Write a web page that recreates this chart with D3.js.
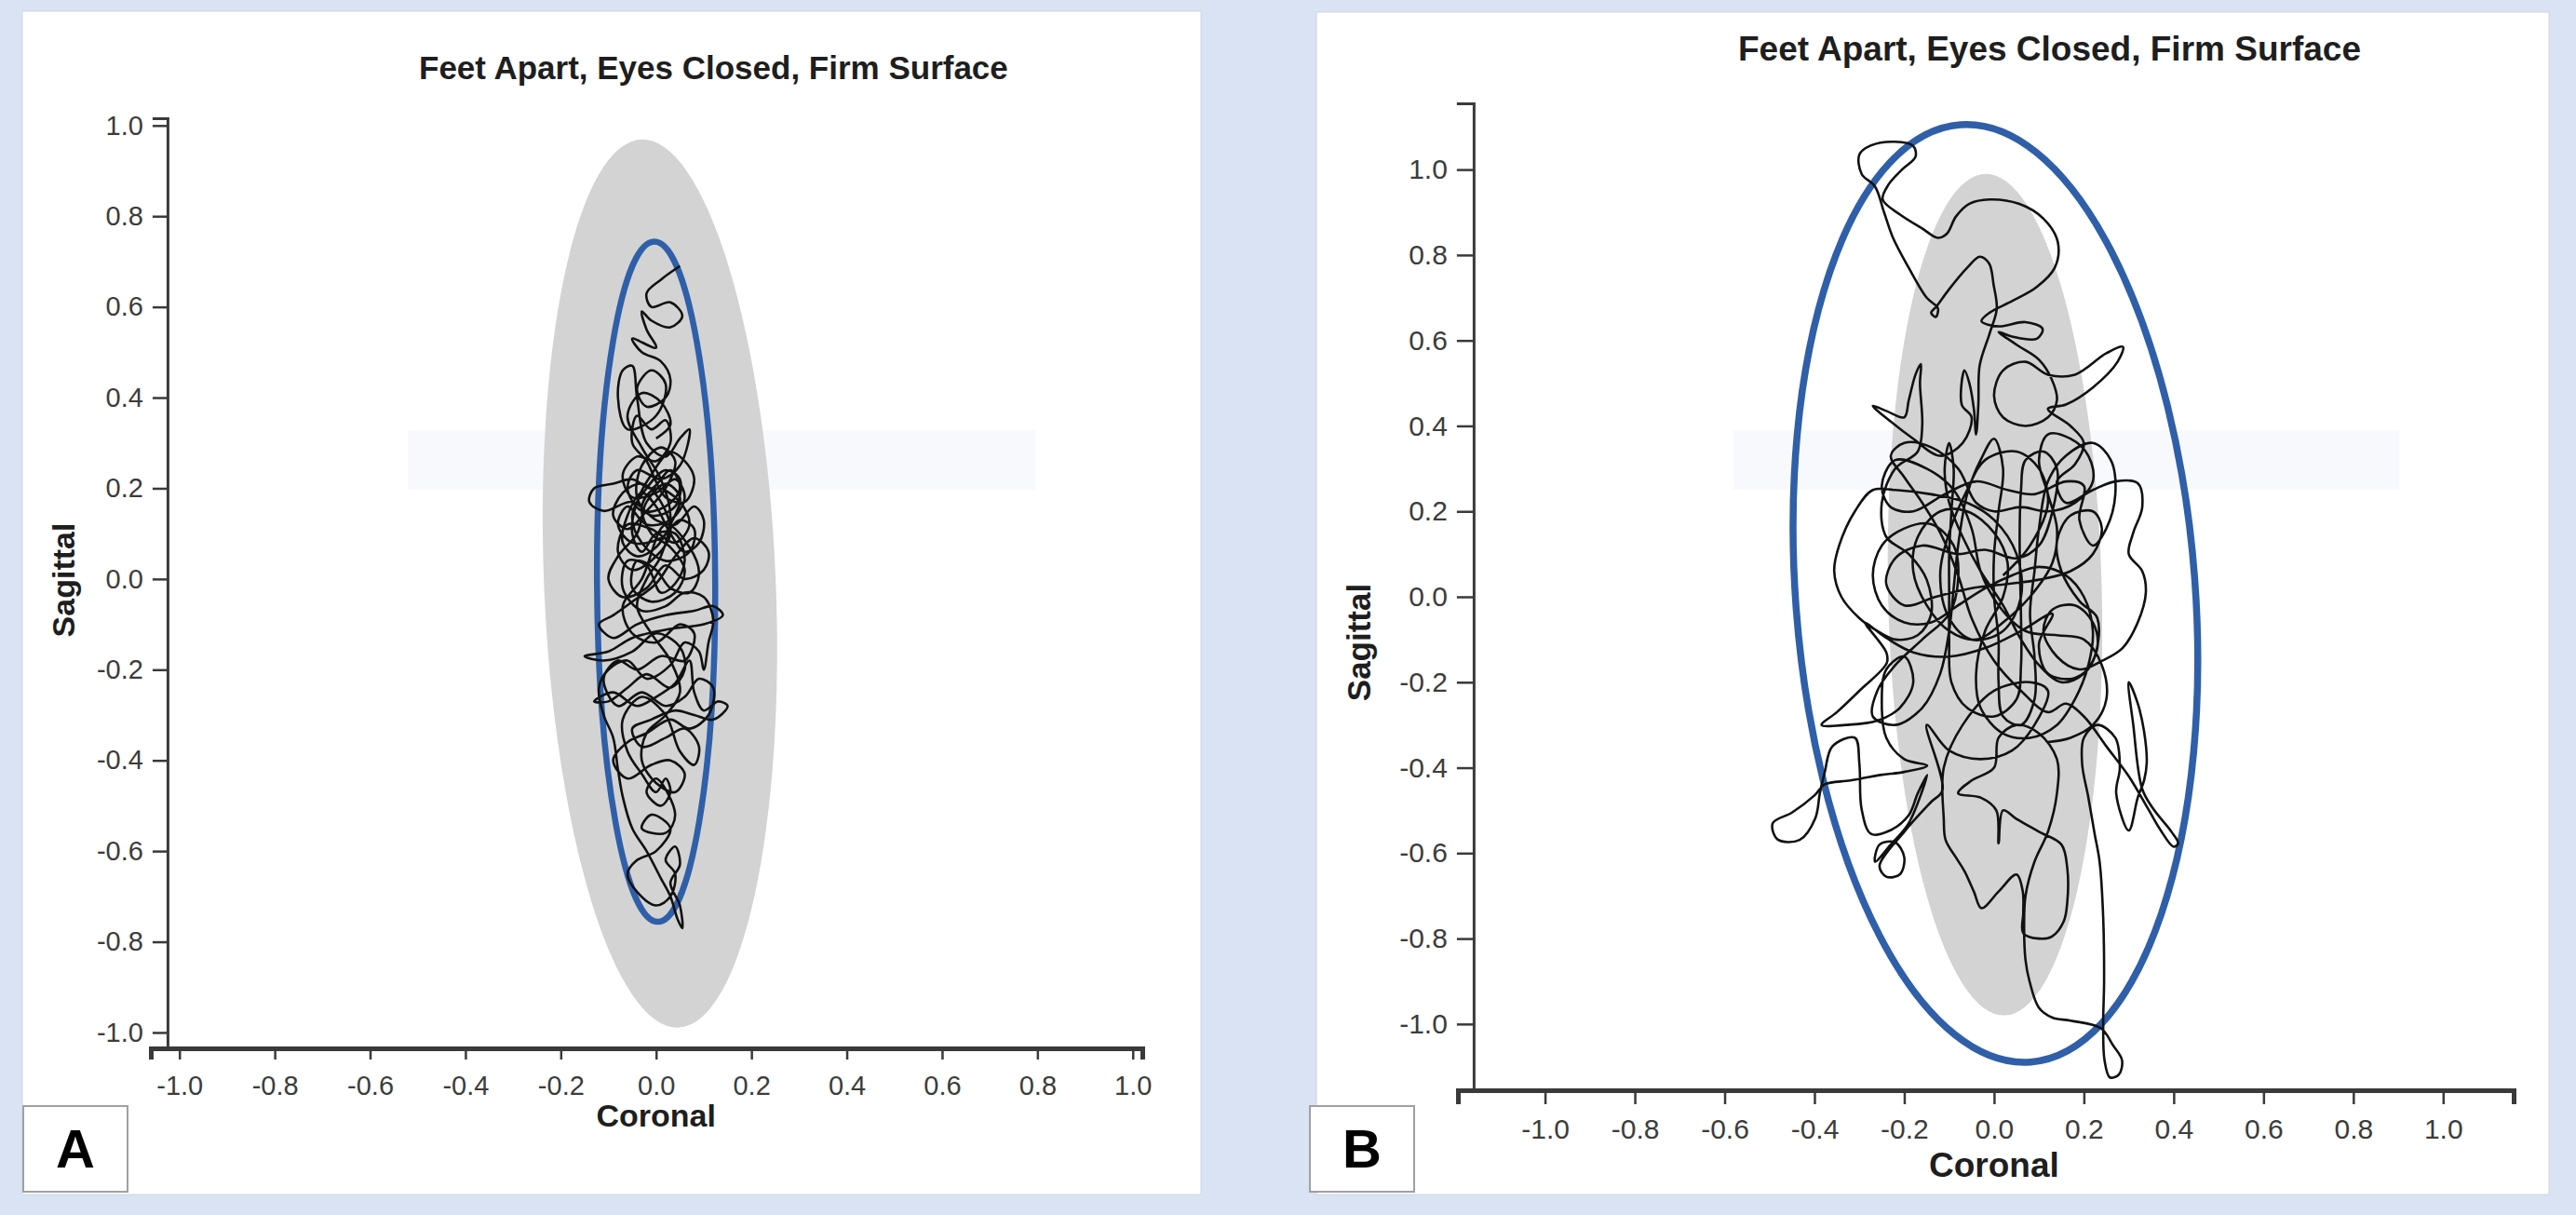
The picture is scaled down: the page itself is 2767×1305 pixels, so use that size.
<!DOCTYPE html>
<html><head><meta charset="utf-8">
<script src="https://cdn.jsdelivr.net/npm/d3@7"></script>
<style>
html,body{margin:0;padding:0;background:#dae3f3;}
svg{display:block;}
text{font-family:"Liberation Sans",Arial,Helvetica,sans-serif;}
</style></head><body>
<svg id="chart" width="2767" height="1305"></svg>
<script>
// ---------------- DATA ----------------
const titleText = "Feet Apart, Eyes Closed, Firm Surface";
const xLabel = "Coronal";
const yLabel = "Sagittal";
const tickValues = [-1.0,-0.8,-0.6,-0.4,-0.2,0.0,0.2,0.4,0.6,0.8,1.0];
const panelLetters = ["A","B"];
// ellipses: [centre x, centre y, semi-axis coronal, semi-axis sagittal, tilt deg (top toward -x)]
const normEllipseA = [0.008,-0.01,0.243,0.98,2.4];
const swayEllipseA = [0.0,-0.006,0.124,0.75,0.3];
const normEllipseB = [0.002,0.005,0.238,0.985,1.3];
const swayEllipseB = [0.003,0.008,0.445,1.10,4.3];

// centre-of-pressure trace, panel A  [coronal, sagittal]
const traceA = [
[0.05,0.69],[0.01,0.66],[-0.02,0.63],[-0.01,0.60],[0.03,0.61],[0.055,0.58],[0.03,0.555],[-0.01,0.57],[-0.03,0.59],[-0.02,0.55],
[0.0,0.51],[-0.05,0.53],[-0.03,0.50],[0.01,0.48],[0.03,0.44],[0.02,0.40],[-0.02,0.38],[-0.04,0.42],[-0.01,0.46],[0.02,0.43],
[0.0,0.36],[-0.06,0.33],[-0.08,0.40],[-0.07,0.46],[-0.05,0.47],[-0.04,0.40],[-0.02,0.30],[0.02,0.27],[0.05,0.31],[0.07,0.33],
[0.05,0.25],[0.01,0.22],[-0.04,0.24],[-0.06,0.20],[-0.03,0.15],[0.02,0.16],[0.05,0.20],[0.03,0.24],[-0.01,0.20],[-0.05,0.22],
[-0.09,0.21],[-0.13,0.20],[-0.14,0.17],[-0.11,0.15],[-0.05,0.17],[0.0,0.13],[0.04,0.12],[0.08,0.16],[0.10,0.13],[0.09,0.08],
[0.06,0.06],[0.03,0.10],[0.0,0.16],[-0.03,0.19],[-0.06,0.14],[-0.07,0.08],[-0.04,0.05],[0.0,0.07],[0.03,0.12],[0.05,0.18],
[0.02,0.21],[-0.02,0.17],[-0.04,0.10],[-0.08,0.05],[-0.10,0.0],[-0.07,-0.04],[-0.02,-0.02],[0.02,0.03],[0.06,0.0],[0.10,0.02],
[0.11,0.06],[0.08,0.09],[0.04,0.05],[0.0,-0.01],[-0.05,-0.05],[-0.09,-0.08],[-0.12,-0.10],[-0.09,-0.13],[-0.04,-0.10],[0.02,-0.08],
[0.08,-0.07],[0.12,-0.06],[0.14,-0.08],[0.10,-0.10],[0.03,-0.11],[-0.05,-0.13],[-0.10,-0.16],[-0.15,-0.17],[-0.11,-0.18],[-0.05,-0.16],
[0.0,-0.12],[0.05,-0.15],[0.06,-0.20],[0.03,-0.24],[-0.02,-0.21],[-0.06,-0.24],[-0.10,-0.27],[-0.13,-0.27],[-0.09,-0.25],[-0.04,-0.28],
[0.0,-0.26],[0.04,-0.23],[0.07,-0.18],[0.08,-0.25],[0.10,-0.29],[0.13,-0.27],[0.15,-0.28],[0.12,-0.31],[0.08,-0.30],[0.04,-0.29],
[-0.01,-0.31],[-0.05,-0.33],[-0.03,-0.37],[0.02,-0.35],[0.06,-0.33],[0.09,-0.37],[0.08,-0.41],[0.05,-0.38],[0.02,-0.30],[-0.03,-0.26],
[-0.07,-0.31],[-0.06,-0.38],[-0.03,-0.43],[0.0,-0.47],[0.02,-0.44],[0.03,-0.47],[0.01,-0.50],[-0.02,-0.47],[0.0,-0.44],[0.04,-0.52],
[0.02,-0.56],[-0.03,-0.55],[-0.01,-0.52],[0.03,-0.55],[0.0,-0.60],[-0.04,-0.62],[-0.06,-0.65],[-0.04,-0.69],[0.0,-0.72],[0.03,-0.70],
[0.04,-0.65],[0.02,-0.62],[0.04,-0.59],[0.05,-0.63],[0.03,-0.67],[0.05,-0.72],[0.055,-0.77],[0.045,-0.75],[0.03,-0.70],[0.01,-0.66],
[-0.02,-0.60],[-0.05,-0.55],[-0.07,-0.48],[-0.08,-0.42],[-0.09,-0.35],[-0.11,-0.30],[-0.12,-0.24],[-0.10,-0.20],[-0.06,-0.18],[-0.02,-0.22],
[0.03,-0.19],[0.06,-0.14],[0.09,-0.16],[0.10,-0.20],[0.11,-0.14],[0.12,-0.09],[0.10,-0.04],[0.06,-0.03],[0.02,-0.06],[-0.03,-0.07],
[-0.07,-0.02],[-0.06,0.04],[-0.02,0.03],[0.01,-0.03],[0.04,-0.01],[0.06,0.04],[0.04,0.10],[0.0,0.10],[-0.03,0.06],[-0.05,0.10],
[-0.04,0.17],[-0.01,0.23],[0.03,0.28],[0.06,0.26],[0.08,0.22],[0.06,0.17],[0.02,0.18],[-0.02,0.26],[-0.05,0.30],[-0.04,0.36],
[-0.01,0.33],[0.02,0.35],[0.03,0.30],[0.0,0.26],[-0.04,0.27],[-0.07,0.23],[-0.05,0.18],[0.0,0.19],[0.04,0.22],[0.06,0.18],
[0.03,0.13],[-0.02,0.12],[-0.06,0.16],[-0.08,0.12],[-0.05,0.08],[0.01,0.09],[0.05,0.13],[0.08,0.11],[0.07,0.06],[0.02,0.04],
[-0.03,0.08],[-0.05,0.14],[-0.02,0.20],[0.02,0.24],[0.05,0.22],[0.04,0.16],[-0.01,0.14],[-0.04,0.18],[-0.03,0.25],[0.01,0.29],
[0.04,0.26],[0.02,0.20],[-0.02,0.15],[-0.06,0.11],[-0.09,0.14],[-0.07,0.19],[-0.03,0.21],[0.01,0.17],[0.03,0.10],[0.0,0.05],
[-0.05,0.02],[-0.08,0.06],[-0.06,0.12],[-0.01,0.11],[0.04,0.08],[0.07,0.12],[0.05,0.17],[0.0,0.20],[-0.03,0.16],[-0.01,0.10],
[0.03,0.07],[0.06,0.02],[0.04,-0.03],[-0.01,-0.05],[-0.05,-0.02],[-0.04,0.04],[0.0,0.02],[0.03,-0.02],[0.07,-0.03],[0.09,0.01],
[0.07,0.07],[0.02,0.12],[-0.03,0.0],[-0.07,-0.06],[-0.05,-0.12],[0.0,-0.14],[0.05,-0.10],[0.08,-0.12],[0.06,-0.18],[0.01,-0.17],
[-0.04,-0.20],[-0.08,-0.18],[-0.11,-0.22],[-0.08,-0.28],[-0.03,-0.25],[0.02,-0.28],[0.06,-0.26],[0.09,-0.22],[0.12,-0.24],[0.11,-0.30],
[0.07,-0.33],[0.03,-0.31],[-0.02,-0.34],[-0.06,-0.36],[-0.09,-0.40],[-0.06,-0.44],[-0.01,-0.41],[0.03,-0.40],[0.06,-0.43],[0.04,-0.47],
[0.0,-0.45],[-0.03,-0.40],[-0.02,-0.34],[0.02,-0.30],[0.05,-0.25],[0.03,-0.18],[-0.01,-0.12],[-0.04,-0.06],[-0.02,0.0],[0.01,0.05],
[0.03,0.14],[0.01,0.22],[-0.03,0.29],[-0.06,0.36],[-0.03,0.41],[0.01,0.39],[0.03,0.34],[0.0,0.31]
];

// centre-of-pressure trace, panel B  [coronal, sagittal]
const traceB = [
[0.02,0.05],[0.08,0.12],[0.12,0.22],[0.10,0.30],[0.05,0.34],[-0.02,0.32],[-0.06,0.25],[-0.10,0.15],
[-0.12,0.05],[-0.10,-0.05],[-0.05,-0.10],[0.02,-0.08],[0.06,0.0],[0.05,0.10],[0.0,0.18],[-0.06,0.22],
[-0.14,0.24],[-0.22,0.25],[-0.27,0.25],[-0.31,0.20],[-0.345,0.12],[-0.356,0.06],[-0.34,0.0],[-0.30,-0.05],
[-0.26,-0.08],[-0.22,-0.10],[-0.17,-0.09],[-0.14,-0.04],[-0.15,0.04],[-0.19,0.10],[-0.24,0.14],[-0.25,0.22],
[-0.22,0.30],[-0.17,0.34],[-0.16,0.40],[-0.165,0.50],[-0.163,0.545],[-0.175,0.52],[-0.19,0.46],[-0.20,0.42],
[-0.24,0.435],[-0.27,0.447],[-0.23,0.41],[-0.18,0.37],[-0.12,0.33],[-0.07,0.36],[-0.05,0.42],[-0.072,0.45],
[-0.066,0.53],[-0.055,0.50],[-0.045,0.44],[-0.04,0.38],[-0.035,0.45],[-0.032,0.542],[-0.01,0.616],[0.006,0.674],
[-0.001,0.73],[-0.011,0.78],[-0.032,0.796],[-0.06,0.77],[-0.10,0.72],[-0.128,0.68],[-0.14,0.665],[-0.13,0.655],
[-0.125,0.675],[-0.15,0.70],[-0.19,0.77],[-0.225,0.84],[-0.245,0.90],[-0.265,0.96],[-0.295,0.99],[-0.30,1.035],
[-0.275,1.056],[-0.22,1.065],[-0.18,1.055],[-0.175,1.03],[-0.205,1.0],[-0.235,0.965],[-0.248,0.93],[-0.21,0.895],
[-0.16,0.862],[-0.125,0.84],[-0.105,0.85],[-0.085,0.89],[-0.055,0.92],[-0.01,0.93],[0.055,0.92],[0.11,0.885],
[0.142,0.83],[0.135,0.77],[0.095,0.725],[0.04,0.692],[-0.01,0.665],[-0.028,0.645],[0.01,0.633],[0.07,0.643],
[0.108,0.627],[0.095,0.604],[0.04,0.609],[0.01,0.62],[0.05,0.59],[0.10,0.555],[0.128,0.51],[0.14,0.46],
[0.12,0.42],[0.07,0.40],[0.02,0.42],[0.0,0.47],[0.02,0.53],[0.07,0.55],[0.12,0.52],[0.18,0.52],
[0.25,0.57],[0.287,0.585],[0.275,0.55],[0.22,0.49],[0.16,0.45],[0.12,0.44],[0.17,0.40],[0.20,0.36],
[0.18,0.31],[0.14,0.27],[0.16,0.22],[0.22,0.25],[0.27,0.27],[0.32,0.266],[0.33,0.21],[0.31,0.15],
[0.30,0.10],[0.33,0.06],[0.338,0.01],[0.32,-0.06],[0.286,-0.12],[0.24,-0.15],[0.19,-0.17],[0.14,-0.14],
[0.11,-0.08],[0.13,-0.03],[0.18,-0.02],[0.22,-0.06],[0.23,-0.12],[0.20,-0.18],[0.15,-0.20],[0.10,-0.16],
[0.06,-0.10],[0.02,-0.02],[-0.03,0.06],[-0.07,0.14],[-0.10,0.22],[-0.11,0.30],[-0.10,0.36],[-0.09,0.30],
[-0.095,0.20],[-0.10,0.10],[-0.10,0.0],[-0.10,-0.10],[-0.095,-0.20],[-0.06,-0.26],[0.0,-0.28],[0.05,-0.24],
[0.06,-0.16],[0.06,-0.05],[0.058,0.05],[0.057,0.15],[0.06,0.25],[0.07,0.32],[0.11,0.34],[0.14,0.30],
[0.13,0.20],[0.10,0.12],[0.05,0.09],[-0.02,0.11],[-0.08,0.10],[-0.16,0.12],[-0.22,0.09],[-0.24,0.03],
[-0.20,-0.02],[-0.13,0.0],[-0.05,0.02],[0.03,0.03],[0.10,0.04],[0.17,0.06],[0.22,0.10],[0.24,0.16],
[0.22,0.20],[0.17,0.19],[0.14,0.13],[0.15,0.06],[0.19,-0.01],[0.23,-0.05],[0.22,-0.15],[0.18,-0.19],
[0.12,-0.18],[0.10,-0.11],[0.13,-0.04],[0.06,-0.08],[-0.02,-0.12],[-0.10,-0.14],[-0.18,-0.13],[-0.239,-0.097],
[-0.287,-0.061],[-0.24,-0.13],[-0.239,-0.155],[-0.30,-0.22],[-0.35,-0.27],[-0.384,-0.30],[-0.33,-0.30],[-0.26,-0.29],
[-0.21,-0.26],[-0.18,-0.20],[-0.20,-0.14],[-0.24,-0.17],[-0.25,-0.25],[-0.24,-0.33],[-0.20,-0.38],[-0.149,-0.395],
[-0.20,-0.41],[-0.253,-0.417],[-0.32,-0.43],[-0.377,-0.439],[-0.40,-0.465],[-0.45,-0.505],[-0.493,-0.53],[-0.482,-0.568],
[-0.433,-0.569],[-0.398,-0.518],[-0.388,-0.46],[-0.377,-0.41],[-0.36,-0.35],[-0.31,-0.33],[-0.30,-0.39],[-0.295,-0.497],
[-0.274,-0.555],[-0.232,-0.547],[-0.19,-0.511],[-0.17,-0.46],[-0.149,-0.417],[-0.19,-0.53],[-0.23,-0.58],[-0.265,-0.62],
[-0.255,-0.58],[-0.22,-0.575],[-0.20,-0.61],[-0.21,-0.65],[-0.24,-0.655],[-0.255,-0.63],[-0.20,-0.55],[-0.14,-0.48],
[-0.115,-0.453],[-0.15,-0.30],[-0.10,-0.36],[-0.03,-0.38],[0.04,-0.36],[0.09,-0.30],[0.12,-0.22],[0.08,-0.20],
[0.0,-0.22],[-0.07,-0.30],[-0.112,-0.40],[-0.112,-0.52],[-0.108,-0.569],[-0.085,-0.61],[-0.066,-0.642],[-0.045,-0.69],
[-0.028,-0.729],[0.01,-0.69],[0.05,-0.65],[0.064,-0.69],[0.065,-0.74],[0.065,-0.787],[0.10,-0.80],[0.129,-0.795],
[0.155,-0.76],[0.163,-0.715],[0.163,-0.635],[0.15,-0.58],[0.10,-0.55],[0.05,-0.52],[0.02,-0.50],[0.01,-0.577],
[0.005,-0.50],[-0.03,-0.47],[-0.08,-0.46],[-0.05,-0.43],[0.0,-0.40],[0.01,-0.33],[0.05,-0.30],[0.10,-0.32],
[0.14,-0.38],[0.14,-0.46],[0.12,-0.55],[0.09,-0.62],[0.07,-0.70],[0.067,-0.78],[0.07,-0.85],[0.079,-0.90],
[0.10,-0.962],[0.13,-0.985],[0.17,-0.992],[0.238,-1.01],[0.265,-1.05],[0.285,-1.085],[0.278,-1.118],[0.258,-1.125],
[0.246,-1.085],[0.243,-1.0],[0.245,-0.90],[0.243,-0.75],[0.235,-0.62],[0.224,-0.555],[0.21,-0.47],[0.196,-0.39],
[0.2,-0.33],[0.23,-0.30],[0.27,-0.33],[0.28,-0.40],[0.272,-0.46],[0.30,-0.547],[0.32,-0.47],[0.334,-0.43],
[0.34,-0.388],[0.334,-0.315],[0.32,-0.25],[0.30,-0.20],[0.31,-0.30],[0.33,-0.45],[0.355,-0.497],[0.395,-0.55],
[0.41,-0.577],[0.40,-0.585],[0.37,-0.545],[0.345,-0.50],[0.30,-0.42],[0.25,-0.35],[0.20,-0.28],[0.16,-0.25],[0.12,-0.27],
[0.06,-0.22],[0.0,-0.15],[-0.05,-0.05],[-0.08,0.05],[-0.12,0.15],[-0.16,0.22],[-0.20,0.28],[-0.23,0.33],
[-0.20,0.36],[-0.14,0.35],[-0.08,0.30],[-0.04,0.22],[0.0,0.20],[0.06,0.21],[0.12,0.20],[0.18,0.22],
[0.22,0.27],[0.21,0.33],[0.17,0.37],[0.12,0.38],[0.10,0.32],[0.12,0.24],[0.14,0.16],[0.13,0.08],
[0.08,0.0],[0.02,-0.06],[-0.04,-0.10],[-0.10,-0.08],[-0.15,-0.02],[-0.18,0.06],[-0.17,0.14],[-0.12,0.20],
[-0.06,0.20],[0.0,0.15],[0.03,0.08],[0.02,0.0],[-0.02,-0.08],[-0.04,-0.18],[-0.03,-0.26],[0.02,-0.32],
[0.08,-0.33],[0.14,-0.30],[0.18,-0.24],[0.21,-0.16],[0.22,-0.08],[0.20,0.0],[0.16,0.05],[0.10,0.07],
[0.04,0.05],[-0.02,0.02],[-0.08,-0.02],[-0.14,-0.06],[-0.20,-0.06],[-0.25,-0.02],[-0.27,0.05],[-0.25,0.12],
[-0.20,0.16],[-0.14,0.17],[-0.09,0.12],[-0.08,0.04],[-0.10,-0.04],[-0.16,-0.10],[-0.22,-0.16],[-0.26,-0.22],
[-0.27,-0.28],[-0.22,-0.30],[-0.16,-0.26],[-0.12,-0.18],[-0.10,-0.08],[-0.09,0.02],[-0.08,0.12],[-0.06,0.24],
[-0.03,0.32],[0.0,0.37],[0.02,0.30],[0.01,0.20],[0.0,0.10],[0.0,0.0],[0.01,-0.10],[0.01,-0.20],
[0.02,-0.28],[0.06,-0.30],[0.09,-0.24],[0.09,-0.14],[0.08,-0.04],[0.09,0.06],[0.10,0.16],[0.12,0.27],
[0.16,0.33],[0.22,0.36],[0.26,0.32],[0.27,0.24],[0.25,0.16],[0.22,0.12],[0.19,0.18],[0.20,0.26],
[0.16,0.27],[0.09,0.24],[0.03,0.25],[-0.04,0.27],[-0.11,0.24],[-0.18,0.20],[-0.23,0.21],[-0.25,0.26],
[-0.22,0.32],[-0.15,0.30],[-0.09,0.25],[-0.05,0.16],[-0.03,0.06],[0.01,-0.02],[0.07,-0.08],[0.14,-0.09],
[0.20,-0.10],[0.24,-0.16],[0.25,-0.24],[0.22,-0.30],[0.17,-0.33],[0.12,-0.34]
];

// ---------------- LAYOUT ----------------
const panels = [
  { letter: panelLetters[0], rect:[24,12,1266,1271], box:[25,1188,112,92], letterXY:[81,1254], letterSize:58,
    xDomain:[-1.06,1.02], xRange:[162,1227], yDomain:[-1.035,1.016], yRange:[1126,127], yAxisAt:-1.025,
    title:{x:450,y:85,size:35}, xLab:{y:1210,size:34}, yLab:{x:80,y:623,size:34},
    xTick:{size:12,pad:17}, yTick:{size:16,pad:10}, tickFont:29,
    faint:[438,462,674,64],
    norm:normEllipseA, sway:swayEllipseA, trace:traceA, traceW:2.6, swayW:6.5 },
  { letter: panelLetters[1], rect:[1414,13,1324,1270], box:[1407,1188,112,92], letterXY:[1463,1254], letterSize:58,
    xDomain:[-1.194,1.157], xRange:[1566,2700], yDomain:[-1.155,1.155], yRange:[1171,111], yAxisAt:-1.159,
    title:{x:1867,y:65,size:37}, xLab:{y:1264,size:37}, yLab:{x:1472,y:690,size:35},
    xTick:{size:15,pad:16}, yTick:{size:18,pad:10}, tickFont:30,
    faint:[1862,462,715,64],
    norm:normEllipseB, sway:swayEllipseB, trace:traceB, traceW:2.6, swayW:7.5 }
];

const svg = d3.select("#chart");
svg.append("rect").attr("width",2767).attr("height",1305).attr("fill","#dae3f3");
const fmt = d => (Math.abs(d) < 1e-9 ? 0 : d).toFixed(1);

panels.forEach(p => {
  const g = svg.append("g");
  const xS = d3.scaleLinear().domain(p.xDomain).range(p.xRange);
  const yS = d3.scaleLinear().domain(p.yDomain).range(p.yRange);

  g.append("rect").attr("x",p.rect[0]).attr("y",p.rect[1]).attr("width",p.rect[2]).attr("height",p.rect[3])
    .attr("fill","#ffffff").attr("stroke","#cdd5e4").attr("stroke-width",1);
  g.append("rect").attr("x",p.faint[0]).attr("y",p.faint[1]).attr("width",p.faint[2]).attr("height",p.faint[3])
    .attr("fill","#f7f9fd");

  const ell = (e, fill, stroke, sw) => {
    const [cx,cy,sx,sy,tilt] = e;
    g.append("ellipse")
      .attr("cx", xS(cx)).attr("cy", yS(cy))
      .attr("rx", xS(cx+sx)-xS(cx)).attr("ry", yS(cy)-yS(cy+sy))
      .attr("transform", `rotate(${-tilt},${xS(cx)},${yS(cy)})`)
      .attr("fill", fill).attr("stroke", stroke).attr("stroke-width", sw);
  };
  ell(p.norm, "#d3d3d3", "none", 0);
  ell(p.sway, "none", "#2f5fa8", p.swayW);

  const line = d3.line().x(d => xS(d[0])).y(d => yS(d[1])).curve(d3.curveCatmullRom.alpha(0.5));
  g.append("path").datum(p.trace).attr("d", line).attr("fill","none")
    .attr("stroke","#111").attr("stroke-width",p.traceW).attr("stroke-linejoin","round");

  // axes
  const xAxis = g.append("g").attr("transform",`translate(0,${yS(p.yDomain[0])})`)
    .call(d3.axisBottom(xS).tickValues(tickValues).tickFormat(fmt)
      .tickSize(p.xTick.size).tickSizeOuter(p.xTick.size).tickPadding(p.xTick.pad));
  xAxis.select(".domain").attr("stroke","#3a3a3a").attr("stroke-width",5);
  xAxis.selectAll(".tick line").attr("stroke","#3a3a3a").attr("stroke-width",2.5);
  xAxis.selectAll(".tick text").attr("font-size",p.tickFont).attr("fill","#3c3c3c")
    .attr("font-family","'Liberation Sans',Arial,sans-serif");

  const yAxis = g.append("g").attr("transform",`translate(${xS(p.yAxisAt)},0)`)
    .call(d3.axisLeft(yS).tickValues(tickValues).tickFormat(fmt)
      .tickSize(p.yTick.size).tickSizeOuter(p.yTick.size).tickPadding(p.yTick.pad));
  yAxis.select(".domain").attr("stroke","#3a3a3a").attr("stroke-width",3);
  yAxis.selectAll(".tick line").attr("stroke","#3a3a3a").attr("stroke-width",2.5);
  yAxis.selectAll(".tick text").attr("font-size",p.tickFont).attr("fill","#3c3c3c")
    .attr("font-family","'Liberation Sans',Arial,sans-serif");

  // texts
  g.append("text").attr("x",p.title.x).attr("y",p.title.y).attr("font-size",p.title.size)
    .attr("font-weight","bold").attr("fill","#1e1e1e").text(titleText);
  g.append("text").attr("x",xS(0)).attr("y",p.xLab.y).attr("text-anchor","middle")
    .attr("font-size",p.xLab.size).attr("font-weight","bold").attr("fill","#1e1e1e").text(xLabel);
  g.append("text").attr("transform",`translate(${p.yLab.x},${p.yLab.y}) rotate(-90)`).attr("text-anchor","middle")
    .attr("font-size",p.yLab.size).attr("font-weight","bold").attr("fill","#1e1e1e").text(yLabel);

  // panel letter box
  g.append("rect").attr("x",p.box[0]).attr("y",p.box[1]).attr("width",p.box[2]).attr("height",p.box[3])
    .attr("fill","#ffffff").attr("stroke","#a0a0a0").attr("stroke-width",2);
  g.append("text").attr("x",p.letterXY[0]).attr("y",p.letterXY[1]).attr("text-anchor","middle")
    .attr("font-size",p.letterSize).attr("font-weight","bold").attr("fill","#000").text(p.letter);
});
</script>
</body></html>
